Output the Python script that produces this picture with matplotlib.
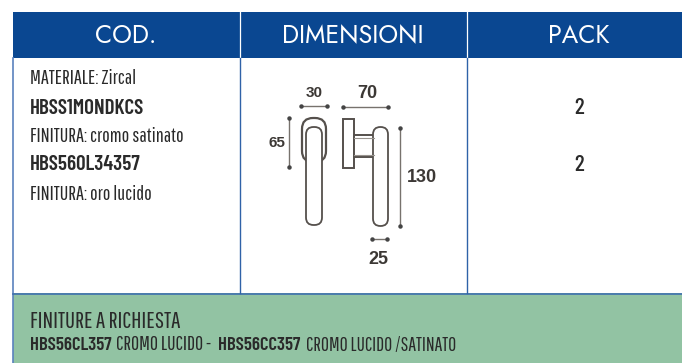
import matplotlib
matplotlib.use('Agg')
import matplotlib.pyplot as plt
from matplotlib.patches import Rectangle, FancyBboxPatch

BLUE = '#0A4791'
GREEN = '#92C3A3'
DARK = '#2a2a2a'
NARROW = ['Pathway Gothic One', 'Barlow Condensed', 'Liberation Sans']
NARROW_BOLD = ['Barlow Condensed', 'Pathway Gothic One', 'Liberation Sans']
HEAD = ['Jost', 'Lato']

headers = ['COD.', 'DIMENSIONI', 'PACK']
desc_rows = ['MATERIALE: Zircal', 'HBSS1MONDKCS', 'FINITURA: cromo satinato',
             'HBS560L34357', 'FINITURA: oro lucido']
desc_bold = [False, True, False, True, False]
pack_values = ['2', '2']
dim_labels = ['30', '70', '65', '130', '25']
footer_title = 'FINITURE A RICHIESTA'
footer_parts = ['HBS56CL357', 'CROMO LUCIDO -', 'HBS56CC357', 'CROMO LUCIDO /SATINATO']
footer_bold = [True, False, True, False]

fig = plt.figure(figsize=(6.82, 3.63), dpi=100)
ax = fig.add_axes([0, 0, 1, 1])
ax.set_xlim(0, 682)
ax.set_ylim(363, 0)
ax.axis('off')

#Table background
ax.add_patch(Rectangle((13, 12), 669, 46, fc=BLUE, ec='none'))
ax.add_patch(Rectangle((13, 293), 669, 70, fc=GREEN, ec='none'))
ax.plot([13, 13], [58, 363], color='#5A82BD', lw=1.2)
ax.plot([13, 682], [293.5, 293.5], color='#3F6FAE', lw=1.2)
for x in [239.5, 466.5]:
    ax.plot([x, x], [12, 58], color='white', lw=0.9)
    ax.plot([x, x], [58, 293], color='#2F62A8', lw=1)

#Header
for x, t in zip([126, 353, 579], headers):
    ax.text(x, 36, t, color='white', family=HEAD, fontsize=18, fontweight='medium',
            ha='center', va='center')

#First column
for y, t, b in zip([79, 108, 137, 165, 194], desc_rows, desc_bold):
    ax.text(30, y, t, color=DARK, family=NARROW_BOLD if b else NARROW,
            fontsize=15.2 if b else 14.5,
            fontweight='semibold' if b else 'normal', ha='left', va='center')

#Pack column
for y, t in zip([108, 165], pack_values):
    ax.text(579, y, t, color=DARK, family=NARROW_BOLD, fontsize=17, fontweight='medium',
            ha='center', va='center')

#Footer
ax.text(30, 322, footer_title, color=DARK, family=NARROW, fontsize=17, ha='left', va='center')
for x, t, b, s in zip([30, 116, 218, 306], footer_parts, footer_bold, [13.5, 14.3, 13.5, 14]):
    ax.text(x, 345, t, color=DARK, family=NARROW_BOLD if b else NARROW, fontsize=s,
            ha='left', va='center', fontweight='semibold' if b else 'normal')

#Handle drawing, front view
def rounded(x0, y0, x1, y1, r, lw=1.3):
    ax.add_patch(FancyBboxPatch((x0 + r, y0 + r), x1 - x0 - 2 * r, y1 - y0 - 2 * r,
                                boxstyle='round,pad=%g,rounding_size=%g' % (r, r),
                                fc='white', ec='#55504c', lw=lw))

rounded(302, 118, 326, 162, 11, 1.6)
rounded(306, 127, 322, 225, 7.5)

#Handle drawing, side view
ax.add_patch(Rectangle((343, 119), 11, 49, fc='white', ec='#55504c', lw=1.4))
ax.add_patch(Rectangle((354, 135), 20, 22, fc='white', ec='#55504c', lw=1.4))
ax.plot([354, 374], [138, 138], color='#99948f', lw=0.8)
ax.plot([354, 374], [155, 155], color='#99948f', lw=0.8)
rounded(373, 127, 388, 226, 7.4)

#Dimension lines
dim_segments = [([301, 327], [106, 106]), ([343, 388], [107, 107]), ([289, 289], [118, 167]),
                ([400, 400], [128, 226]), ([372, 387], [239, 239])]
for xs, ys in dim_segments:
    ax.plot(xs, ys, color='#77726d', lw=1, marker='o', ms=2.2, mfc='#444', mec='#444')

dim_pos = [(314, 93, 11), (367, 93, 13), (277, 143, 11), (422, 178, 13), (378, 260, 13)]
for (x, y, s), t in zip(dim_pos, dim_labels):
    ax.text(x, y, t, color='#3c3835', family='Liberation Sans', fontweight='bold',
            fontsize=s, ha='center', va='center')

plt.savefig('out.png', dpi=100)
